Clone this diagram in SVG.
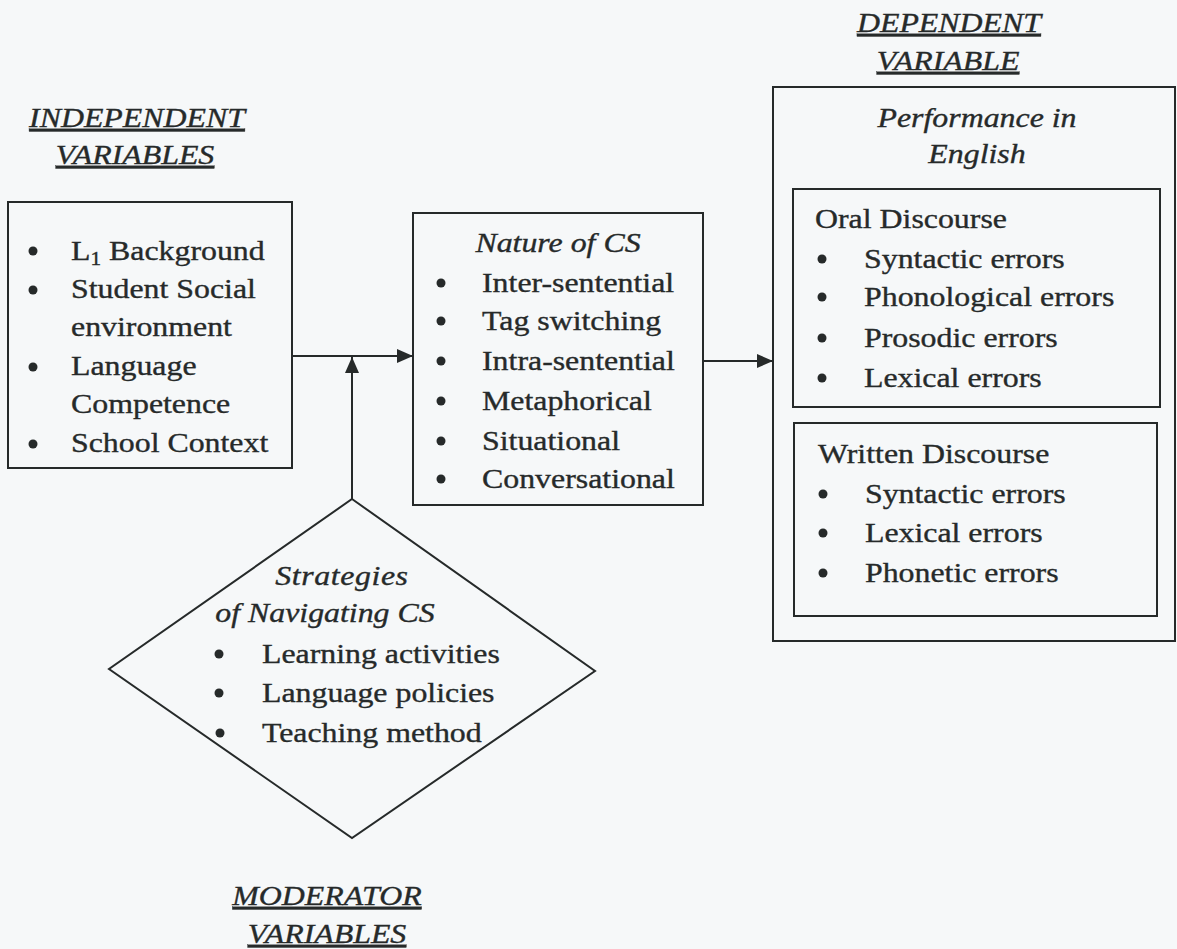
<svg xmlns="http://www.w3.org/2000/svg" width="1177" height="949" viewBox="0 0 1177 949">
<style>
.bg{fill:#f6f8f9}
.box{fill:none;stroke:#262a2a;stroke-width:2}
.ln{fill:none;stroke:#262a2a;stroke-width:2}
.t{font-family:"Liberation Serif","Times New Roman",serif;font-size:27px;fill:#262a2a;stroke:#262a2a;stroke-width:0.35}
.i{font-style:italic}
.u{text-decoration:underline}
.m{text-anchor:middle}
.b{fill:#262a2a}
</style>
<defs>
<marker id="ah" viewBox="0 0 16 14" refX="16" refY="7" markerWidth="16" markerHeight="14" markerUnits="userSpaceOnUse" orient="auto">
<path d="M0,0 L16,7 L0,14 Z" fill="#262a2a"/>
</marker>
</defs>
<rect class="bg" x="0" y="0" width="1177" height="949"/>

<g id="independent">
<rect class="box" x="8" y="202" width="284" height="266"/>
<g class="b">
<circle cx="33" cy="251" r="4.5"/><circle cx="33" cy="290" r="4.5"/><circle cx="33" cy="367" r="4.5"/><circle cx="33" cy="444" r="4.5"/>
</g>
<g class="t" transform="scale(1.18 1)">
<text class="i u m" x="116.1" y="127">INDEPENDENT</text>
<text class="i u m" x="114.4" y="164">VARIABLES</text>
<text x="60.2" y="260">L<tspan font-size="18" dy="5">1</tspan><tspan dy="-5"> Background</tspan></text>
<text x="60.2" y="298">Student Social</text>
<text x="60.2" y="336">environment</text>
<text x="60.2" y="375">Language</text>
<text x="60.2" y="413">Competence</text>
<text x="60.2" y="452">School Context</text>
</g>
</g>

<g id="nature">
<rect class="box" x="413" y="213" width="290" height="292"/>
<g class="b">
<circle cx="441" cy="283" r="4.5"/><circle cx="441" cy="321" r="4.5"/><circle cx="441" cy="361" r="4.5"/><circle cx="441" cy="401" r="4.5"/><circle cx="441" cy="441" r="4.5"/><circle cx="441" cy="479" r="4.5"/>
</g>
<g class="t" transform="scale(1.18 1)">
<text class="i m" x="472.9" y="252">Nature of CS</text>
<text x="408.5" y="292">Inter-sentential</text>
<text x="408.5" y="330">Tag switching</text>
<text x="408.5" y="370">Intra-sentential</text>
<text x="408.5" y="410">Metaphorical</text>
<text x="408.5" y="450">Situational</text>
<text x="408.5" y="488">Conversational</text>
</g>
</g>

<g id="moderator">
<polygon class="box" points="352,499 595,671 352,838 109,669"/>
<g class="b">
<circle cx="219" cy="654" r="4.5"/><circle cx="219" cy="693" r="4.5"/><circle cx="220" cy="733" r="4.5"/>
</g>
<g class="t" transform="scale(1.18 1)">
<text class="i m" x="289.8" y="585" letter-spacing="0.5">Strategies</text>
<text class="i m" x="275.4" y="622">of Navigating CS</text>
<text x="222" y="663">Learning activities</text>
<text x="222" y="702">Language policies</text>
<text x="222" y="742">Teaching method</text>
<text class="i u m" x="277.1" y="905">MODERATOR</text>
<text class="i u m" x="277.1" y="943">VARIABLES</text>
</g>
</g>

<g id="dependent">
<rect class="box" x="773" y="87" width="402" height="554"/>
<g class="t" transform="scale(1.18 1)">
<text class="i u m" x="804.2" y="32">DEPENDENT</text>
<text class="i u m" x="803.4" y="70">VARIABLE</text>
<text class="i m" x="828" y="127">Performance in</text>
<text class="i m" x="828" y="163">English</text>
</g>
</g>

<g id="oral">
<rect class="box" x="793" y="189" width="367" height="218"/>
<g class="b">
<circle cx="822" cy="259" r="4.5"/><circle cx="822" cy="297" r="4.5"/><circle cx="822" cy="338" r="4.5"/><circle cx="822" cy="378" r="4.5"/>
</g>
<g class="t" transform="scale(1.18 1)">
<text x="690.7" y="228">Oral Discourse</text>
<text x="732.2" y="268">Syntactic errors</text>
<text x="732.2" y="306">Phonological errors</text>
<text x="732.2" y="347">Prosodic errors</text>
<text x="732.2" y="387">Lexical errors</text>
</g>
</g>

<g id="written">
<rect class="box" x="794" y="423" width="363" height="193"/>
<g class="b">
<circle cx="823" cy="494" r="4.5"/><circle cx="823" cy="533" r="4.5"/><circle cx="823" cy="573" r="4.5"/>
</g>
<g class="t" transform="scale(1.18 1)">
<text x="693.2" y="463">Written Discourse</text>
<text x="733" y="503">Syntactic errors</text>
<text x="733" y="542">Lexical errors</text>
<text x="733" y="582">Phonetic errors</text>
</g>
</g>

<g id="connectors">
<line class="ln" x1="292" y1="356" x2="413" y2="356" marker-end="url(#ah)"/>
<line class="ln" x1="352" y1="499" x2="352" y2="357" marker-end="url(#ah)"/>
<line class="ln" x1="703" y1="361" x2="773" y2="361" marker-end="url(#ah)"/>
</g>
</svg>
